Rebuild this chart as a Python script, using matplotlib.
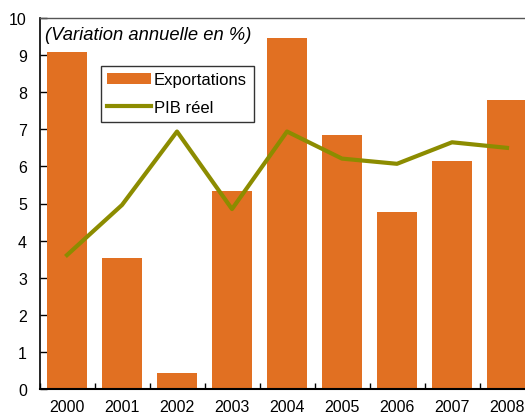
import matplotlib
matplotlib.use("Agg")
import matplotlib.pyplot as plt
import numpy as np

plt.rcParams["font.family"] = ["Liberation Sans", "DejaVu Sans"]

# Chart data.
years = ["2000", "2001", "2002", "2003", "2004", "2005", "2006", "2007", "2008"]
exportations = [9.08, 3.53, 0.43, 5.34, 9.46, 6.85, 4.77, 6.15, 7.80]
pib_reel = [3.61, 4.96, 6.94, 4.85, 6.94, 6.21, 6.07, 6.65, 6.50]

ORANGE = "#E17022"
OLIVE = "#8C8C00"

fig = plt.figure(figsize=(5.25, 4.14), dpi=100)
ax = fig.add_axes([39.5 / 525, 1 - 390 / 414, 495 / 525, 371 / 414])

x = np.arange(len(years))
bars = ax.bar(x, exportations, width=0.727, color=ORANGE, zorder=2)
line, = ax.plot(x, pib_reel, color=OLIVE, linewidth=3, zorder=3)

ax.set_xlim(-0.5, len(years) - 0.5)
ax.set_ylim(0, 10)
ax.set_yticks(range(0, 11))
ax.set_xticks(x)
ax.set_xticklabels(years)
ax.set_xticks(np.arange(-0.5, len(years), 1.0), minor=True)

ax.tick_params(axis="y", direction="in", length=5, width=1, labelsize=11.5,
               pad=9)
ax.tick_params(axis="x", which="major", length=0, labelsize=11.5, pad=7)
ax.tick_params(axis="x", which="minor", direction="in", length=4, width=1)

ax.spines["left"].set_linewidth(1.2)
ax.spines["bottom"].set_linewidth(1.5)
ax.spines["top"].set_color("#555555")
ax.spines["top"].set_linewidth(1)
ax.spines["right"].set_visible(False)

ax.text(5.5 / 495, 1 - 21 / 371, "(Variation annuelle en %)", transform=ax.transAxes,
        fontsize=13.2, style="italic", va="baseline", ha="left")

leg = ax.legend([bars, line], ["Exportations", "PIB réel"], loc="upper left",
                bbox_to_anchor=(100.7 / 525, 1 - 66.7 / 414),
                bbox_transform=fig.transFigure, borderaxespad=0,
                fancybox=False, frameon=True, fontsize=12,
                handlelength=2.6, handleheight=0.6, handletextpad=0.2,
                borderpad=0.4, labelspacing=0.75)
leg.get_frame().set_edgecolor("black")
leg.get_frame().set_linewidth(1)

fig.savefig("out.png", dpi=100)
